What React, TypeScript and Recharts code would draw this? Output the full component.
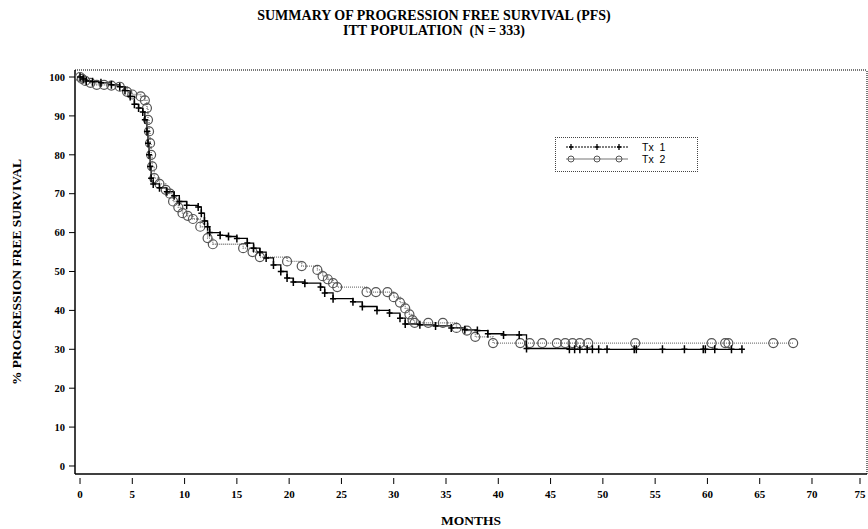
import React from "react";
import {
  LineChart,
  Line,
  XAxis,
  YAxis,
  Legend,
  ReferenceLine,
} from "recharts";

// Kaplan-Meier estimates (months, % PFS)
const tx1Months = [
  0, 0.3, 0.6, 1.2, 2, 3, 3.8, 4.3, 4.8, 5.2, 5.6, 6, 6.2, 6.4, 6.5, 6.6, 6.7, 6.8, 7, 7.6,
  8.3, 9, 9.5, 10.2, 11.3, 11.6, 11.9, 12.2, 12.4, 13.4, 14.2, 15, 16, 16.6, 17.2, 17.8,
  18.5, 19.2, 19.8, 20.4, 21.5, 23, 23.4, 24.2, 26.1, 27, 28.4, 29.6, 30.6, 31.1, 32.5, 34,
  35.5, 36.8, 38, 39, 40.5, 42, 42.7, 46.8, 47.3, 47.8, 48.5, 49, 49.6, 50.4, 53, 53.2,
  55.7, 57.8, 59.6, 59.8, 60.7, 62.3, 63.3,
];
const tx1Pfs = [
  100, 99.5, 99, 98.8, 98.5, 98, 97.5, 96.5, 95, 93, 92, 91, 89, 86, 83, 80, 77, 74, 72.5,
  71.5, 70.5, 69.5, 68, 67, 66.6, 65, 63, 61.5, 60, 59.3, 59, 58.5, 57.3, 56, 55, 53.5,
  51.7, 50, 48.3, 47.3, 47, 46, 44.5, 43, 42.2, 41, 40, 39.3, 38, 36.5, 36.3, 36, 35.5, 35,
  34.8, 34, 33.7, 33.7, 30.2, 30, 30, 30, 30, 30, 30, 30, 30, 30, 30, 30, 30, 30, 30, 30, 30,
];

const tx2Months = [
  0, 0.2, 0.5, 1, 1.6, 2.3, 3, 3.8, 4.5, 5, 5.8, 6.2, 6.4, 6.5, 6.6, 6.7, 6.8, 6.9, 7.1,
  7.6, 8.2, 8.6, 8.9, 9.4, 9.8, 10.3, 10.8, 11.5, 12.2, 12.7, 15.6, 16.5, 17.2, 19.8, 21.2,
  22.7, 23.2, 23.7, 24.2, 24.6, 27.4, 28.3, 29.4, 30, 30.6, 31.1, 31.5, 31.8, 32, 33.3,
  34.7, 36, 37, 37.8, 39.5, 42.1, 43, 44.2, 45.6, 46.4, 47.1, 47.8, 48.6, 53.1, 60.4, 61.7,
  62, 66.3, 68.2,
];
const tx2Pfs = [
  100, 99.5, 99, 98.5, 98, 98, 97.8, 97.5, 96.2, 95.5, 95, 94, 92, 89, 86, 83, 80, 77, 74,
  72.5, 71, 70, 68, 66.5, 65, 64.3, 63.5, 61.5, 58.6, 57, 56, 55, 53.7, 52.6, 51.4, 50.4,
  48.8, 48, 47, 46, 44.7, 44.7, 44.7, 43.4, 42, 40.5, 39, 37.5, 36.8, 36.8, 36.8, 35.5,
  34.8, 33.2, 31.6, 31.6, 31.6, 31.6, 31.6, 31.6, 31.6, 31.6, 31.6, 31.6, 31.6, 31.6, 31.6,
  31.6, 31.6,
];

const xTicks = [0, 5, 10, 15, 20, 25, 30, 35, 40, 45, 50, 55, 60, 65, 70, 75];
const yTicks = [0, 10, 20, 30, 40, 50, 60, 70, 80, 90, 100];

const tx1Data = tx1Months.map((m, i) => ({ month: m, pfs: tx1Pfs[i] }));
const tx2Data = tx2Months.map((m, i) => ({ month: m, pfs: tx2Pfs[i] }));

const SERIF = "'Liberation Serif', 'DejaVu Serif', serif";
const SANS = "'Liberation Sans', 'DejaVu Sans', sans-serif";

const X_MAX = 75.26;
const Y_MIN = -2.06;
const Y_MAX = 101.8;

function PlusDot(props: any) {
  const { cx, cy } = props;
  if (cx == null || cy == null) return null;
  return (
    <path
      d={`M${cx - 3},${cy}H${cx + 3}M${cx},${cy - 4}V${cy + 4}`}
      stroke="#000"
      strokeWidth={1.5}
      fill="none"
    />
  );
}

function CircleDot(props: any) {
  const { cx, cy } = props;
  if (cx == null || cy == null) return null;
  return <circle cx={cx} cy={cy} r={4.5} stroke="#555" strokeWidth={1.2} fill="none" />;
}

function XTick({ x, y, payload }: any) {
  return (
    <g>
      <line x1={x} x2={x} y1={y + 4} y2={y + 10} stroke="#000" strokeWidth={1} />
      <text
        x={x}
        y={y + 24}
        textAnchor="middle"
        fontSize={11}
        fontWeight="bold"
        fontFamily={SERIF}
        fill="#000"
      >
        {payload.value}
      </text>
    </g>
  );
}

function LegendBox() {
  return (
    <div
      style={{
        width: 143,
        height: 35,
        border: "1.5px dotted #444",
        background: "#fff",
        boxSizing: "border-box",
      }}
    >
      <svg width={141} height={33}>
        <line x1={10} x2={72} y1={9} y2={9} stroke="#000" strokeWidth={1.2} strokeDasharray="2 1" />
        {[15, 41, 63].map((x) => (
          <path
            key={"a" + x}
            d={`M${x - 2},9H${x + 2}M${x},6V12`}
            stroke="#000"
            strokeWidth={1.3}
          />
        ))}
        <line x1={10} x2={72} y1={21} y2={21} stroke="#777" strokeWidth={1.2} />
        {[15, 41, 63].map((x) => (
          <circle key={"b" + x} cx={x} cy={21} r={3} stroke="#555" fill="none" />
        ))}
        <text x={86} y={13} fontSize={10.5} fontFamily={SANS} fill="#000" style={{ whiteSpace: "pre" }}>
          {"Tx  1"}
        </text>
        <text x={86} y={25} fontSize={10.5} fontFamily={SANS} fill="#000" style={{ whiteSpace: "pre" }}>
          {"Tx  2"}
        </text>
      </svg>
    </div>
  );
}

export default function App() {
  return (
    <div style={{ position: "relative", width: 868, height: 529, background: "#fff" }}>
      <style>{"body{margin:0}"}</style>
      <div
        style={{
          position: "absolute",
          top: 8,
          left: 0,
          width: 868,
          textAlign: "center",
          fontFamily: SERIF,
          fontWeight: "bold",
          fontSize: 14,
          lineHeight: "15px",
          color: "#000",
        }}
      >
        SUMMARY OF PROGRESSION FREE SURVIVAL (PFS)
        <br />
        ITT POPULATION&nbsp;&nbsp;(N = 333)
      </div>
      <LineChart
        width={868}
        height={529}
        margin={{ top: 70, right: 1, bottom: 0, left: 0 }}
      >
        <XAxis
          type="number"
          dataKey="month"
          domain={[-0.48, X_MAX]}
          ticks={xTicks}
          allowDataOverflow
          height={55}
          tickSize={0}
          tickMargin={0}
          tickLine={false}
          tick={<XTick />}
          axisLine={{ stroke: "#000", strokeWidth: 1.5 }}
          label={{
            value: "MONTHS",
            position: "insideBottom",
            offset: 4,
            style: { fontFamily: SERIF, fontWeight: "bold", fontSize: 13.5, fill: "#000" },
          }}
        />
        <YAxis
          type="number"
          domain={[Y_MIN, Y_MAX]}
          ticks={yTicks}
          allowDataOverflow
          width={75}
          tickSize={6}
          tickMargin={4}
          tickLine={{ stroke: "#000" }}
          axisLine={{ stroke: "#000", strokeWidth: 1.5 }}
          tick={{ fontSize: 10.5, fontWeight: "bold", fontFamily: SERIF, fill: "#000" }}
          label={{
            value: "% PROGRESSION FREE SURVIVAL",
            angle: -90,
            position: "insideLeft",
            offset: 16,
            style: {
              textAnchor: "middle",
              fontFamily: SERIF,
              fontWeight: "bold",
              fontSize: 13.5,
              fill: "#000",
            },
          }}
        />
        <ReferenceLine y={Y_MAX} stroke="#777" strokeWidth={2} strokeDasharray="1 1" />
        <ReferenceLine x={X_MAX} stroke="#777" strokeWidth={2} strokeDasharray="1 1" />
        <Line
          data={tx2Data}
          dataKey="pfs"
          name="Tx 2"
          type="stepAfter"
          stroke="#777"
          strokeWidth={1.3}
          strokeDasharray="1 1"
          dot={(p: any) => <CircleDot key={"c" + p.index} {...p} />}
          isAnimationActive={false}
        />
        <Line
          data={tx1Data}
          dataKey="pfs"
          name="Tx 1"
          type="stepAfter"
          stroke="#000"
          strokeWidth={1.3}
          dot={(p: any) => <PlusDot key={"p" + p.index} {...p} />}
          isAnimationActive={false}
        />
        <Legend
          layout="vertical"
          verticalAlign="middle"
          align="center"
          content={() => <LegendBox />}
          wrapperStyle={{ left: 555, top: 137, width: 143, height: 35 }}
        />
      </LineChart>
    </div>
  );
}
